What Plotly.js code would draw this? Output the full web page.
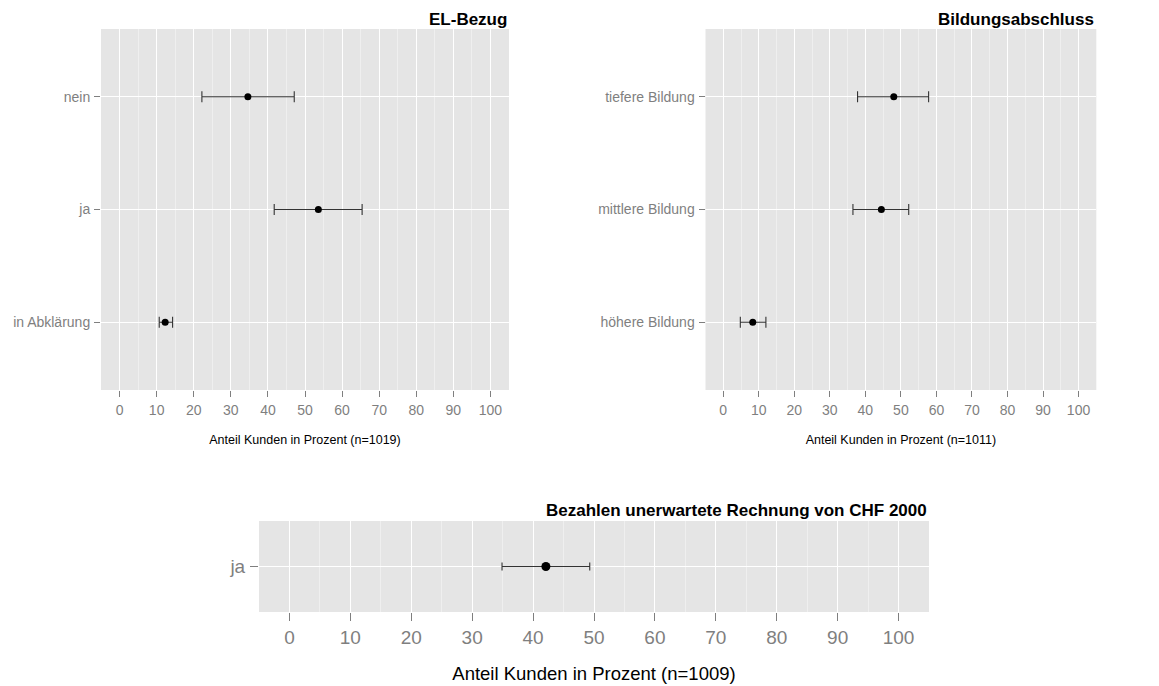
<!DOCTYPE html>
<html>
<head>
<meta charset="utf-8">
<script src="https://cdn.plot.ly/plotly-3.0.1.min.js"></script>
<style>html,body{margin:0;padding:0;background:#fff;}#chart{width:1159px;height:686px;}</style>
</head>
<body>
<div id="chart"></div>
<script>
// ---- Data ----
const elCategories = ['nein', 'ja', 'in Abklärung'];
const elValues = [34.6, 53.6, 12.3];
const elLower = [22.2, 41.7, 10.7];
const elUpper = [47.1, 65.4, 14.3];

const bildCategories = ['tiefere Bildung', 'mittlere Bildung', 'höhere Bildung'];
const bildValues = [48.0, 44.5, 8.3];
const bildLower = [37.8, 36.5, 4.8];
const bildUpper = [57.8, 52.2, 12.0];

const rechCategories = ['ja'];
const rechValues = [42.1];
const rechLower = [34.9];
const rechUpper = [49.3];

const xTickValues = [0, 10, 20, 30, 40, 50, 60, 70, 80, 90, 100];
const xTickLabels = ['0', '10', '20', '30', '40', '50', '60', '70', '80', '90', '100'];

const titles = ['EL-Bezug', 'Bildungsabschluss', 'Bezahlen unerwartete Rechnung von CHF 2000'];
const axisTitles = ['Anteil Kunden in Prozent (n=1019)', 'Anteil Kunden in Prozent (n=1011)', 'Anteil Kunden in Prozent (n=1009)'];

// ---- Build ----
const FONT = '"Liberation Sans", Arial, Helvetica, sans-serif';
const W = 1159, H = 686;

function trace(cats, vals, lo, hi, xa, ya, msize, capw) {
  return {
    type: 'scatter', mode: 'markers',
    x: vals, y: cats, xaxis: xa, yaxis: ya,
    marker: {color: '#000000', size: msize},
    error_x: {
      type: 'data', symmetric: false,
      array: hi.map((h, i) => h - vals[i]),
      arrayminus: lo.map((l, i) => vals[i] - l),
      color: '#333333', thickness: 1.1, width: capw
    },
    hoverinfo: 'x+y', showlegend: false
  };
}

const data = [
  trace(elCategories, elValues, elLower, elUpper, 'x', 'y', 7, 5.5),
  trace(bildCategories, bildValues, bildLower, bildUpper, 'x2', 'y2', 7, 5.5),
  trace(rechCategories, rechValues, rechLower, rechUpper, 'x3', 'y3', 9, 4)
];

function xAxis(px0, px1, anchor, tickSize, titleText, titleSize, standoff, ticklen, lblStandoff) {
  return {
    domain: [px0 / W, px1 / W], anchor: anchor,
    range: [-5, 105], tickmode: 'array', tickvals: xTickValues, ticktext: xTickLabels,
    showgrid: true, gridcolor: '#FFFFFF', gridwidth: 1,
    minor: {dtick: 5, tick0: 5, showgrid: true, gridcolor: '#EFEFEF', gridwidth: 1, ticks: ''},
    zeroline: false, showline: false,
    ticks: 'outside', ticklen: ticklen, tickwidth: 1, tickcolor: '#7F7F7F',
    ticklabelstandoff: lblStandoff,
    tickfont: {family: FONT, size: tickSize, color: '#7F7F7F'},
    title: {text: titleText, font: {family: FONT, size: titleSize, color: '#000000'}, standoff: standoff},
    automargin: false, fixedrange: true
  };
}
function yAxis(py0, py1, anchor, cats, tickSize, ticklen, lblStandoff) {
  const order = cats.slice().reverse();
  return {
    domain: [1 - py1 / H, 1 - py0 / H], anchor: anchor,
    type: 'category', categoryorder: 'array', categoryarray: order,
    range: [-0.6, order.length - 0.4],
    showgrid: true, gridcolor: '#FFFFFF', gridwidth: 1,
    zeroline: false, showline: false,
    ticks: 'outside', ticklen: ticklen, tickwidth: 1, tickcolor: '#7F7F7F',
    ticklabelstandoff: lblStandoff,
    tickfont: {family: FONT, size: tickSize, color: '#7F7F7F'},
    automargin: false, fixedrange: true
  };
}

const layout = {
  width: W, height: H,
  margin: {l: 0, r: 0, t: 0, b: 0},
  paper_bgcolor: '#FFFFFF', plot_bgcolor: '#E5E5E5',
  font: {family: FONT},
  xaxis: xAxis(101, 509, 'y', 14, axisTitles[0], 12.5, 18, 6, 1),
  yaxis: yAxis(29, 390, 'x', elCategories, 14, 6, 1),
  xaxis2: xAxis(705.5, 1096.3, 'y2', 14, axisTitles[1], 12.5, 18, 6, 1),
  yaxis2: yAxis(29, 390, 'x2', bildCategories, 14, 6, 1),
  xaxis3: xAxis(259, 929, 'y3', 19, axisTitles[2], 18.5, 20, 8, 0),
  yaxis3: yAxis(521, 612, 'x3', rechCategories, 19, 8, 1),
  annotations: [
    {text: '<b>' + titles[0] + '</b>', xref: 'paper', yref: 'paper', x: 509 / W, y: 1 - 29 / H, yshift: -2, xanchor: 'right', yanchor: 'bottom', showarrow: false, font: {family: FONT, size: 17, color: '#000000'}},
    {text: '<b>' + titles[1] + '</b>', xref: 'paper', yref: 'paper', x: 1096.3 / W, y: 1 - 29 / H, yshift: -2, xanchor: 'right', yanchor: 'bottom', showarrow: false, font: {family: FONT, size: 17, color: '#000000'}},
    {text: '<b>' + titles[2] + '</b>', xref: 'paper', yref: 'paper', x: 929 / W, y: 1 - 521 / H, yshift: -1, xanchor: 'right', yanchor: 'bottom', showarrow: false, font: {family: FONT, size: 17, color: '#000000'}}
  ]
};

Plotly.newPlot('chart', data, layout, {displayModeBar: false, staticPlot: true});
</script>
</body>
</html>
